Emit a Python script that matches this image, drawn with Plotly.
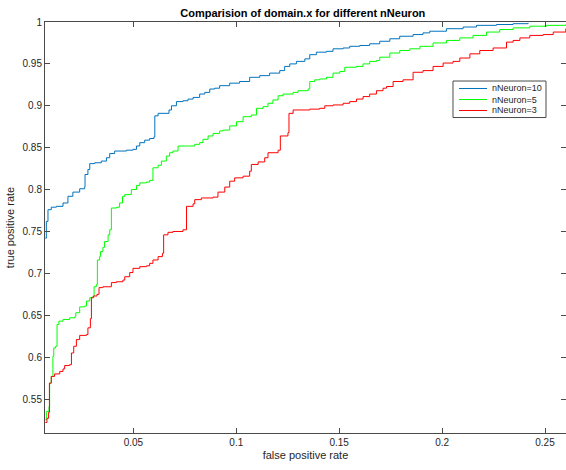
import plotly.graph_objects as go

# ROC curves (false positive rate, true positive rate)
fpr_10 = [0.0072, 0.0077, 0.0085, 0.0101, 0.0126, 0.0158, 0.0182, 0.0206, 0.0239, 0.0263,
          0.0265, 0.0279, 0.0288, 0.0312, 0.0344, 0.0369, 0.0385, 0.0409, 0.0466, 0.0498,
          0.0515, 0.0531, 0.0555, 0.0579, 0.0600, 0.0604, 0.0620, 0.0673, 0.0685, 0.0709,
          0.0741, 0.0765, 0.0790, 0.0822, 0.0847, 0.0871, 0.0895, 0.0919, 0.0968, 0.1016,
          0.1065, 0.1114, 0.1162, 0.1211, 0.1235, 0.1260, 0.1292, 0.1333, 0.1357, 0.1389,
          0.1438, 0.1470, 0.1519, 0.1551, 0.1600, 0.1648, 0.1697, 0.1746, 0.1794, 0.1859,
          0.1907, 0.1940, 0.2021, 0.2102, 0.2167, 0.2264, 0.2345, 0.2418]
tpr_10 = [0.742, 0.762, 0.776, 0.779, 0.780, 0.784, 0.792, 0.797, 0.801, 0.803,
          0.818, 0.824, 0.831, 0.832, 0.834, 0.838, 0.843, 0.846, 0.847, 0.848,
          0.852, 0.856, 0.859, 0.861, 0.863, 0.888, 0.891, 0.895, 0.900, 0.905,
          0.906, 0.908, 0.910, 0.914, 0.916, 0.920, 0.921, 0.924, 0.927, 0.929,
          0.934, 0.936, 0.939, 0.942, 0.947, 0.950, 0.953, 0.956, 0.961, 0.964,
          0.965, 0.968, 0.969, 0.971, 0.972, 0.974, 0.977, 0.980, 0.983, 0.985,
          0.987, 0.989, 0.992, 0.994, 0.996, 0.997, 0.998, 0.999]

fpr_5 = [0.0072, 0.0077, 0.0090, 0.0093, 0.0101, 0.0109, 0.0113, 0.0122, 0.0129, 0.0138,
         0.0158, 0.0190, 0.0215, 0.0220, 0.0239, 0.0263, 0.0272, 0.0288, 0.0304, 0.0309,
         0.0320, 0.0325, 0.0336, 0.0340, 0.0352, 0.0360, 0.0377, 0.0385, 0.0393, 0.0419,
         0.0433, 0.0447, 0.0458, 0.0490, 0.0515, 0.0531, 0.0563, 0.0579, 0.0595, 0.0620,
         0.0636, 0.0660, 0.0676, 0.0692, 0.0717, 0.0758, 0.0798, 0.0822, 0.0838, 0.0863,
         0.0887, 0.0919, 0.0935, 0.0968, 0.1001, 0.1033, 0.1073, 0.1098, 0.1130, 0.1154,
         0.1178, 0.1203, 0.1227, 0.1276, 0.1300, 0.1349, 0.1357, 0.1381, 0.1405, 0.1438,
         0.1470, 0.1503, 0.1527, 0.1584, 0.1616, 0.1648, 0.1681, 0.1697, 0.1746, 0.1794,
         0.1843, 0.1892, 0.1956, 0.2021, 0.2086, 0.2150, 0.2216, 0.2280, 0.2345, 0.2426,
         0.2507, 0.2601]
tpr_5 = [0.525, 0.535, 0.541, 0.569, 0.577, 0.601, 0.611, 0.613, 0.639, 0.643,
         0.645, 0.647, 0.648, 0.653, 0.660, 0.661, 0.667, 0.671, 0.673, 0.684,
         0.687, 0.716, 0.720, 0.726, 0.731, 0.738, 0.746, 0.752, 0.778, 0.779,
         0.784, 0.792, 0.794, 0.800, 0.805, 0.808, 0.809, 0.811, 0.826, 0.829,
         0.834, 0.840, 0.844, 0.846, 0.852, 0.852, 0.854, 0.856, 0.860, 0.864,
         0.867, 0.870, 0.871, 0.876, 0.881, 0.887, 0.889, 0.897, 0.899, 0.903,
         0.907, 0.912, 0.914, 0.916, 0.918, 0.920, 0.929, 0.931, 0.932, 0.934,
         0.939, 0.941, 0.946, 0.947, 0.950, 0.953, 0.954, 0.958, 0.963, 0.966,
         0.968, 0.971, 0.975, 0.978, 0.981, 0.984, 0.988, 0.991, 0.993, 0.995,
         0.996, 0.997]

fpr_3 = [0.0072, 0.0080, 0.0088, 0.0092, 0.0101, 0.0117, 0.0142, 0.0158, 0.0166, 0.0190,
         0.0199, 0.0210, 0.0223, 0.0239, 0.0272, 0.0279, 0.0291, 0.0296, 0.0307, 0.0323,
         0.0333, 0.0352, 0.0377, 0.0393, 0.0417, 0.0449, 0.0458, 0.0482, 0.0498, 0.0531,
         0.0563, 0.0579, 0.0595, 0.0620, 0.0641, 0.0647, 0.0668, 0.0692, 0.0741, 0.0758,
         0.0790, 0.0798, 0.0830, 0.0887, 0.0911, 0.0944, 0.0968, 0.0992, 0.1033, 0.1065,
         0.1073, 0.1106, 0.1138, 0.1154, 0.1203, 0.1214, 0.1251, 0.1256, 0.1276, 0.1357,
         0.1405, 0.1430, 0.1470, 0.1519, 0.1551, 0.1584, 0.1616, 0.1648, 0.1681, 0.1713,
         0.1730, 0.1762, 0.1810, 0.1859, 0.1907, 0.1956, 0.2005, 0.2053, 0.2086, 0.2135,
         0.2183, 0.2248, 0.2313, 0.2345, 0.2378, 0.2426, 0.2491, 0.2540, 0.2601]
tpr_3 = [0.522, 0.527, 0.534, 0.569, 0.577, 0.580, 0.583, 0.586, 0.590, 0.591,
         0.605, 0.613, 0.621, 0.626, 0.627, 0.635, 0.646, 0.671, 0.673, 0.675,
         0.683, 0.684, 0.684, 0.689, 0.690, 0.692, 0.696, 0.701, 0.706, 0.708,
         0.709, 0.712, 0.716, 0.720, 0.724, 0.746, 0.749, 0.750, 0.752, 0.780,
         0.783, 0.788, 0.790, 0.791, 0.797, 0.803, 0.810, 0.814, 0.816, 0.822,
         0.830, 0.833, 0.838, 0.844, 0.847, 0.864, 0.868, 0.891, 0.895, 0.896,
         0.897, 0.900, 0.901, 0.903, 0.905, 0.908, 0.911, 0.914, 0.918, 0.921,
         0.923, 0.929, 0.931, 0.940, 0.942, 0.947, 0.951, 0.953, 0.957, 0.962,
         0.966, 0.969, 0.976, 0.978, 0.981, 0.984, 0.985, 0.988, 0.992]

series_names = ["nNeuron=10", "nNeuron=5", "nNeuron=3"]
series_colors = ["#0072BD", "#00FF00", "#FF0000"]
series_data = [(fpr_10, tpr_10), (fpr_5, tpr_5), (fpr_3, tpr_3)]

x_ticks = [0.05, 0.1, 0.15, 0.2, 0.25]
x_tick_text = ["0.05", "0.1", "0.15", "0.2", "0.25"]
y_ticks = [0.55, 0.6, 0.65, 0.7, 0.75, 0.8, 0.85, 0.9, 0.95, 1.0]
y_tick_text = ["0.55", "0.6", "0.65", "0.7", "0.75", "0.8", "0.85", "0.9", "0.95", "1"]

FONT = "Liberation Sans, Arial, sans-serif"
AX = "#4a4a4a"
TXT = "#262626"

fig = go.Figure()
for name, (xs, ys), col in zip(series_names, series_data, series_colors):
    fig.add_trace(go.Scatter(x=xs, y=ys, mode="lines", name=name, showlegend=False,
                             line=dict(color=col, width=1, shape="hv")))

axis_common = dict(showgrid=False, zeroline=False, showline=True, linecolor=AX, linewidth=1,
                   mirror="ticks", ticks="inside", ticklen=5, tickcolor=AX, tickwidth=1,
                   tickfont=dict(family=FONT, size=10, color=TXT))

# compact MATLAB-style legend box (paper coordinates of the plot area)
shapes = [dict(type="rect", xref="paper", yref="paper", x0=0.7831, x1=0.9616, y0=0.7676, y1=0.8564,
               line=dict(color=AX, width=1), fillcolor="white", layer="above")]
annotations = []
legend_rows = [0.8382, 0.8114, 0.7847]
for name, col, ry in zip(series_names, series_colors, legend_rows):
    shapes.append(dict(type="line", xref="paper", yref="paper", x0=0.7946, x1=0.8484, y0=ry, y1=ry,
                       line=dict(color=col, width=1), layer="above"))
    annotations.append(dict(xref="paper", yref="paper", x=0.8541, y=ry, xanchor="left",
                            yanchor="middle", text=name, showarrow=False,
                            font=dict(family=FONT, size=9, color=TXT)))

fig.update_layout(
    width=566, height=470,
    margin=dict(l=45, r=0, t=22, b=37),
    paper_bgcolor="white", plot_bgcolor="white",
    title=dict(text="<b>Comparision of domain.x for different nNeuron</b>",
               x=0.535, xanchor="center", y=0.972, yanchor="middle",
               font=dict(family=FONT, size=11, color="#000000")),
    xaxis=dict(range=[0.00705, 0.2602], tickvals=x_ticks, ticktext=x_tick_text,
               title=dict(text="false positive rate", font=dict(family=FONT, size=11, color=TXT),
                          standoff=4),
               **axis_common),
    yaxis=dict(range=[0.5095, 1.0], tickvals=y_ticks, ticktext=y_tick_text,
               title=dict(text="true positive rate", font=dict(family=FONT, size=11, color=TXT),
                          standoff=5),
               **axis_common),
    shapes=shapes,
    annotations=annotations,
    showlegend=False,
)

fig.write_html("out.html")
